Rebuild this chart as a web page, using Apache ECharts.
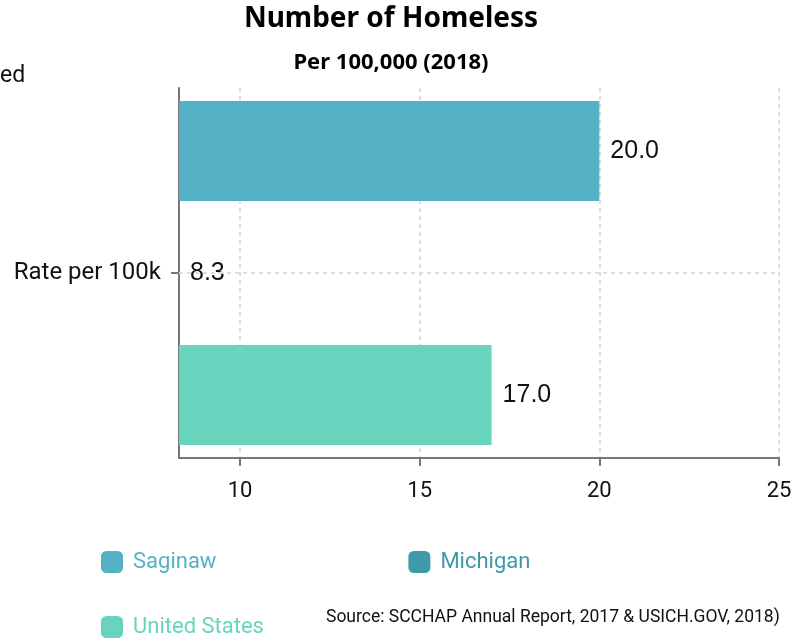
<!DOCTYPE html>
<html>
<head>
<meta charset="utf-8">
<script src="https://cdn.jsdelivr.net/npm/echarts@6/dist/echarts.min.js"></script>
<style>
  html, body { margin: 0; padding: 0; background: #fff; }
  #chart { width: 804px; height: 639px; }
</style>
</head>
<body>
<div id="chart"></div>
<script>
// data
const categories = ['Rate per 100k']
const seriesNames = ['Saginaw', 'Michigan', 'United States']
const saginawValues = [20.0]
const michiganValues = [8.3]
const usValues = [17.0]
const xTicks = [10, 15, 20, 25]

const colors = ['#55B1C5', '#3E9AAA', '#68D4BE']
const allValues = [...saginawValues, ...michiganValues, ...usValues]

const myChart = echarts.init(document.getElementById('chart'))

const makeSeries = (name, data, i) => ({
  name: name,
  type: 'bar',
  data: data,
  barCategoryGap: '7%',
  barGap: '22%',
  itemStyle: { color: colors[i] },
  label: {
    show: true,
    position: 'right',
    distance: 11,
    color: '#111',
    fontFamily: 'Liberation Sans',
    fontSize: 25,
    formatter: p => p.value.toFixed(1)
  }
})

const legendItem = (name, i) => ({
  name: name,
  itemStyle: { color: colors[i] },
  textStyle: { color: colors[i] }
})

let option = {
  animation: false,
  title: [
    {
      text: 'Number of Homeless',
      left: 386,
      top: 0,
      textAlign: 'center',
      textStyle: { fontFamily: 'Noto Sans', fontWeight: 'bold', fontSize: 28, color: '#000' }
    },
    {
      text: 'Per 100,000 (2018)',
      left: 386,
      top: 47,
      textAlign: 'center',
      textStyle: { fontFamily: 'Noto Sans', fontWeight: 'bold', fontSize: 22, color: '#000' }
    }
  ],
  legend: [
    {
      data: [legendItem('Saginaw', 0), legendItem('Michigan', 1)],
      left: 96,
      top: 546,
      icon: 'roundRect',
      itemWidth: 22,
      itemHeight: 22,
      itemGap: 192,
      textStyle: { fontFamily: 'Roboto', fontSize: 22, padding: [0, 0, 0, 5] }
    },
    {
      data: [legendItem('United States', 2)],
      left: 96,
      top: 611,
      icon: 'roundRect',
      itemWidth: 22,
      itemHeight: 22,
      textStyle: { fontFamily: 'Roboto', fontSize: 22, padding: [0, 0, 0, 5] }
    }
  ],
  grid: {
    left: 179,
    right: 25,
    top: 88,
    bottom: 181,
    containLabel: false
  },
  xAxis: {
    type: 'value',
    min: Math.min(...allValues),
    max: 25,
    splitNumber: 3,
    axisLine: { show: true, lineStyle: { color: '#777', width: 2 } },
    axisTick: { show: true, length: 8, lineStyle: { color: '#777', width: 2 }, customValues: xTicks },
    axisLabel: {
      customValues: xTicks,
      margin: 22,
      color: '#111',
      fontFamily: 'Roboto',
      fontSize: 22
    },
    splitLine: { show: true, lineStyle: { color: '#ddd', type: [4, 4], width: 2 } }
  },
  yAxis: {
    type: 'category',
    data: categories,
    inverse: true,
    axisLine: { show: true, lineStyle: { color: '#777', width: 2 } },
    axisTick: { show: true, alignWithLabel: true, length: 8, lineStyle: { color: '#777', width: 2 } },
    axisLabel: { margin: 18, color: '#111', fontFamily: 'Roboto', fontSize: 24 },
    splitLine: { show: false }
  },
  graphic: [
    {
      type: 'text',
      left: 0,
      top: 65,
      style: { text: 'ed', fontFamily: 'Roboto', fontSize: 23, fill: '#111' }
    },
    {
      type: 'text',
      left: 326,
      top: 609,
      style: {
        text: 'Source: SCCHAP Annual Report, 2017 & USICH.GOV, 2018)',
        fontFamily: 'Roboto',
        fontSize: 17.5,
        fill: '#111'
      }
    }
  ],
  series: [
    makeSeries(seriesNames[0], saginawValues, 0),
    {
      ...makeSeries(seriesNames[1], michiganValues, 1),
      // horizontal dashed guide through the category centre
      markLine: {
        silent: true,
        symbol: 'none',
        label: { show: false },
        lineStyle: { color: '#ddd', type: [4, 4], width: 2 },
        data: [{ yAxis: categories[0] }]
      }
    },
    makeSeries(seriesNames[2], usValues, 2)
  ]
}
myChart.setOption(option, true)
</script>
</body>
</html>
